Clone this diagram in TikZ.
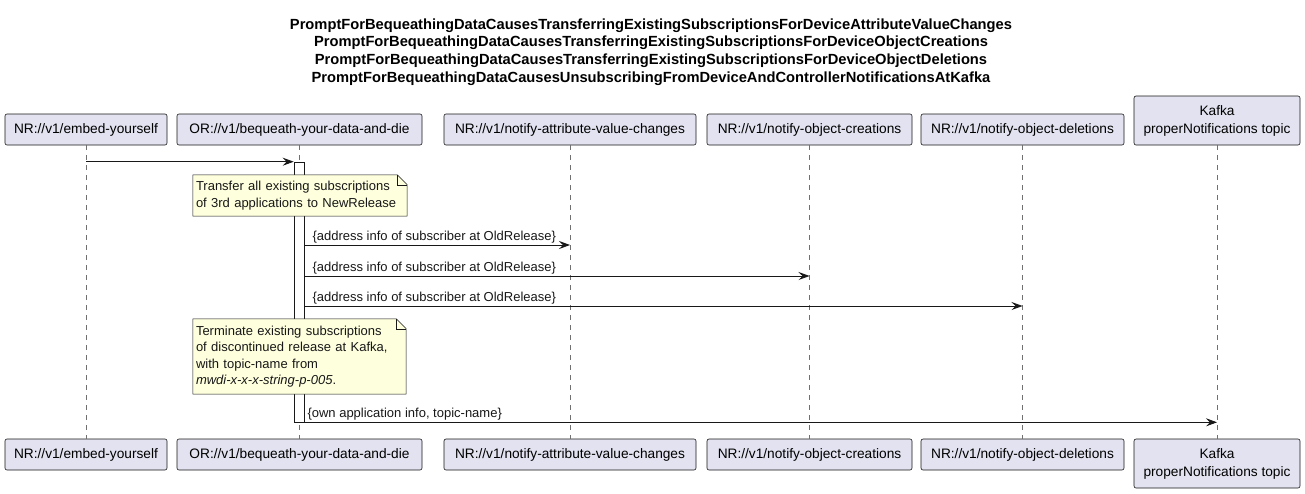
\documentclass[tikz,border=0pt]{standalone}
\usepackage{fontspec}
\setmainfont{Liberation Sans}
\usetikzlibrary{arrows.meta,calc}
\definecolor{partfill}{HTML}{E2E2F0}
\definecolor{ink}{HTML}{181818}
\definecolor{notefill}{HTML}{FEFFDD}
\definecolor{lifeink}{HTML}{707070}
\begin{document}
\begin{tikzpicture}[x=1pt,y=-1pt,
 part/.style={draw=ink, fill=partfill, rounded corners=2pt, line width=0.6pt, font=\fontsize{13.7}{18}\selectfont, align=center, inner sep=0pt},
 life/.style={draw=lifeink, dash pattern=on 5pt off 5pt, line width=0.6pt},
 msg/.style={draw=ink, line width=0.8pt, -{Stealth[length=11pt,width=8pt,inset=4pt]}},
 lbl/.style={font=\fontsize{13}{15}\selectfont, inner sep=0pt, anchor=base west, text=ink},
 notebg/.style={draw=none, inner xsep=3pt, inner ysep=0pt, align=left, font=\fontsize{13}{16.5}\selectfont, text=ink},
 notebox/.style={draw=ink, fill=notefill, line width=0.5pt},
 actbox/.style={draw=ink, fill=white, line width=0.6pt, inner sep=0pt}
]
\useasboundingbox[fill=white] (0,0) rectangle (1305,493);

% title
\node[font=\bfseries\fontsize{14.7}{17.8}\selectfont, align=center, text=black] (title) at (651,52)
 {PromptForBequeathingDataCausesTransferringExistingSubscriptionsForDeviceAttributeValueChanges\\
  PromptForBequeathingDataCausesTransferringExistingSubscriptionsForDeviceObjectCreations\\
  PromptForBequeathingDataCausesTransferringExistingSubscriptionsForDeviceObjectDeletions\\
  PromptForBequeathingDataCausesUnsubscribingFromDeviceAndControllerNotificationsAtKafka};

% participants top
\node[part, minimum width=162pt, minimum height=31pt] (p1t) at (86,129.5) {NR://v1/embed-yourself};
\node[part, minimum width=245pt, minimum height=31pt] (p2t) at (299.5,129.5) {OR://v1/bequeath-your-data-and-die};
\node[part, minimum width=252pt, minimum height=31pt] (p3t) at (570,129.5) {NR://v1/notify-attribute-value-changes};
\node[part, minimum width=205pt, minimum height=31pt] (p4t) at (809.5,129.5) {NR://v1/notify-object-creations};
\node[part, minimum width=203pt, minimum height=31pt] (p5t) at (1022.5,129.5) {NR://v1/notify-object-deletions};
\node[part, minimum width=166pt, minimum height=49pt] (p6t) at (1217,120.5) {Kafka\\properNotifications topic};

% participants bottom
\node[part, minimum width=162pt, minimum height=31pt] (p1b) at (86,454.5) {NR://v1/embed-yourself};
\node[part, minimum width=245pt, minimum height=31pt] (p2b) at (299.5,454.5) {OR://v1/bequeath-your-data-and-die};
\node[part, minimum width=252pt, minimum height=31pt] (p3b) at (570,454.5) {NR://v1/notify-attribute-value-changes};
\node[part, minimum width=205pt, minimum height=31pt] (p4b) at (809.5,454.5) {NR://v1/notify-object-creations};
\node[part, minimum width=203pt, minimum height=31pt] (p5b) at (1022.5,454.5) {NR://v1/notify-object-deletions};
\node[part, minimum width=166pt, minimum height=49pt] (p6b) at (1217,463.5) {Kafka\\properNotifications topic};

% lifelines
\draw[life] (p1t.south) -- (p1b.north);
\draw[life] (p2t.south) -- (p2b.north);
\draw[life] (p3t.south) -- (p3b.north);
\draw[life] (p4t.south) -- (p4b.north);
\draw[life] (p5t.south) -- (p5b.north);
\draw[life] (p6t.south) -- (p6b.north);

% activation
\node[actbox, minimum width=10pt, minimum height=260pt] (act) at (299,292) {};

% message 1
\draw[msg] (p1t.south |- act.north) -- (act.north west);

% note 1
\node[notebg, minimum width=214pt, minimum height=41pt, text width=208pt] (n1) at (300,195.5) {};
\draw[notebox] (n1.north west) -- ($(n1.north east)+(-10,0)$) -- ($(n1.north east)+(0,10)$) -- (n1.south east) -- (n1.south west) -- cycle;
\draw[notebox, fill=none] ($(n1.north east)+(-10,0)$) -- ($(n1.north east)+(-10,10)$) -- ($(n1.north east)+(0,10)$);
\node[notebg, minimum width=214pt, minimum height=41pt, text width=208pt] at (n1.center)
 {Transfer all existing subscriptions\\of 3rd applications to NewRelease};

% messages 2-4
\draw[msg] (act.east |- 0,245) coordinate (m2) -- (p3t.south |- m2);
\node[lbl] at ($(m2)+(8,-5)$) {\{address info of subscriber at OldRelease\}};
\draw[msg] (act.east |- 0,276) coordinate (m3) -- (p4t.south |- m3);
\node[lbl] at ($(m3)+(8,-5)$) {\{address info of subscriber at OldRelease\}};
\draw[msg] (act.east |- 0,306) coordinate (m4) -- (p5t.south |- m4);
\node[lbl] at ($(m4)+(8,-5)$) {\{address info of subscriber at OldRelease\}};

% note 2
\node[notebg, minimum width=213pt, minimum height=75pt, text width=207pt] (n2) at (299.5,356.5) {};
\draw[notebox] (n2.north west) -- ($(n2.north east)+(-10,0)$) -- ($(n2.north east)+(0,10)$) -- (n2.south east) -- (n2.south west) -- cycle;
\draw[notebox, fill=none] ($(n2.north east)+(-10,0)$) -- ($(n2.north east)+(-10,10)$) -- ($(n2.north east)+(0,10)$);
\node[notebg, minimum width=213pt, minimum height=75pt, text width=207pt] at (n2.center)
 {Terminate existing subscriptions\\of discontinued release at Kafka,\\with topic-name from\\\textit{mwdi-x-x-x-string-p-005}.};

% message 5
\draw[msg] (act.south east) coordinate (m5) -- (p6t.south |- m5);
\node[lbl] at ($(m5)+(3,-5)$) {\{own application info, topic-name\}};
\end{tikzpicture}
\end{document}
